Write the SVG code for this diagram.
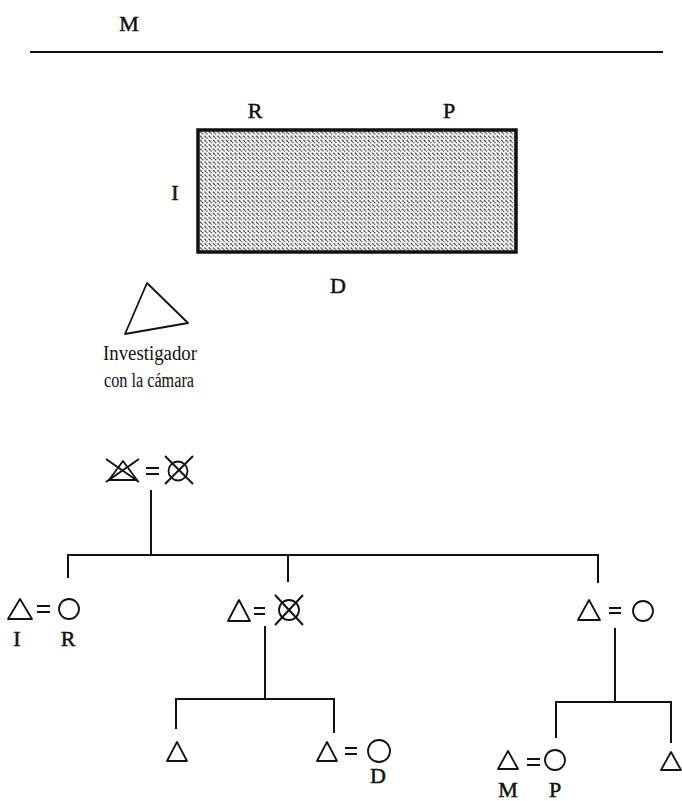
<svg xmlns="http://www.w3.org/2000/svg" width="682" height="801" viewBox="0 0 682 801">
<style>
.t{font-family:"Liberation Serif","DejaVu Serif",serif;font-size:22px;fill:#111;stroke:#111;stroke-width:0.5;text-anchor:middle}
.s{font-family:"Liberation Serif","DejaVu Serif",serif;font-size:20px;fill:#111;text-anchor:middle}
.k{fill:none;stroke:#111;stroke-width:1.8;stroke-linejoin:round}
.c{fill:none;stroke:#111;stroke-width:2}
.eq{stroke:#111;stroke-width:2}
</style>
<defs>
<pattern id="hatch" patternUnits="userSpaceOnUse" width="4.3" height="4.3">
<path d="M-1,-1 L5.3,5.3" stroke="#222" stroke-width="1.2" stroke-dasharray="3 1.6"/>
</pattern>
</defs>
<rect width="682" height="801" fill="#fff"/>

<g id="scene">
<text class="t" x="129" y="31">M</text>
<line x1="30" y1="52" x2="663" y2="52" stroke="#111" stroke-width="2"/>
<rect x="198" y="130" width="318" height="122" fill="url(#hatch)" stroke="#111" stroke-width="3.5"/>
<text class="t" x="255" y="118">R</text>
<text class="t" x="449" y="118">P</text>
<text class="t" x="175" y="200">I</text>
<text class="t" x="338" y="293">D</text>
<polygon class="k" points="147,283 188,323 125,334"/>
<text class="s" x="150" y="360" textLength="94" lengthAdjust="spacingAndGlyphs">Investigador</text>
<text class="s" x="149" y="387" textLength="90" lengthAdjust="spacingAndGlyphs">con la cámara</text>
</g>

<g id="connectors" class="c">
<path d="M151,490 V555"/>
<path d="M68,578 V555 H598 V583"/>
<path d="M288,555 V582"/>
<path d="M265,626 V699"/>
<path d="M176,729 V699 H334 V733"/>
<path d="M615,628 V702"/>
<path d="M556,738 V702 H671 V743"/>
</g>

<g id="n0">
<polygon class="k" points="123,461 137,480 109,480"/>
<line class="eq" x1="106" y1="459" x2="139" y2="482"/>
<line class="eq" x1="106" y1="482" x2="139" y2="459"/>
<line class="eq" x1="146" y1="468" x2="159" y2="468"/>
<line class="eq" x1="146" y1="474" x2="159" y2="474"/>
<circle class="k" cx="178" cy="471" r="9.5"/>
<line class="eq" x1="165" y1="456" x2="193" y2="484"/>
<line class="eq" x1="165" y1="484" x2="193" y2="456"/>
</g>

<g id="n1">
<polygon class="k" points="20,599 32,619 8,619"/>
<line class="eq" x1="37" y1="606" x2="50" y2="606"/>
<line class="eq" x1="37" y1="612" x2="50" y2="612"/>
<circle class="k" cx="69" cy="609" r="10"/>
<text class="t" x="17" y="646">I</text>
<text class="t" x="68" y="646">R</text>
</g>

<g id="n2">
<polygon class="k" points="239,600 250,621 228,621"/>
<line class="eq" x1="254" y1="608" x2="265" y2="608"/>
<line class="eq" x1="254" y1="614" x2="265" y2="614"/>
<circle class="k" cx="289" cy="610" r="10"/>
<line class="eq" x1="275" y1="595" x2="303" y2="625"/>
<line class="eq" x1="275" y1="625" x2="303" y2="595"/>
</g>

<g id="n3">
<polygon class="k" points="589,600 600,620 578,620"/>
<line class="eq" x1="609" y1="608" x2="621" y2="608"/>
<line class="eq" x1="609" y1="613" x2="621" y2="613"/>
<circle class="k" cx="643" cy="611" r="10"/>
</g>

<g id="n4">
<polygon class="k" points="177,742 187,761 167,761"/>
</g>

<g id="n5">
<polygon class="k" points="327,742 337,761 317,761"/>
<line class="eq" x1="345" y1="748" x2="357" y2="748"/>
<line class="eq" x1="345" y1="754" x2="357" y2="754"/>
<circle class="k" cx="379" cy="751" r="11"/>
<text class="t" x="378" y="783">D</text>
</g>

<g id="n6">
<polygon class="k" points="508,751 518,769 498,769"/>
<line class="eq" x1="527" y1="759" x2="540" y2="759"/>
<line class="eq" x1="527" y1="765" x2="540" y2="765"/>
<circle class="k" cx="555" cy="760" r="10"/>
<text class="t" x="508" y="797">M</text>
<text class="t" x="555" y="797">P</text>
</g>

<g id="n7">
<polygon class="k" points="671,752 681,770 661,770"/>
</g>
</svg>
